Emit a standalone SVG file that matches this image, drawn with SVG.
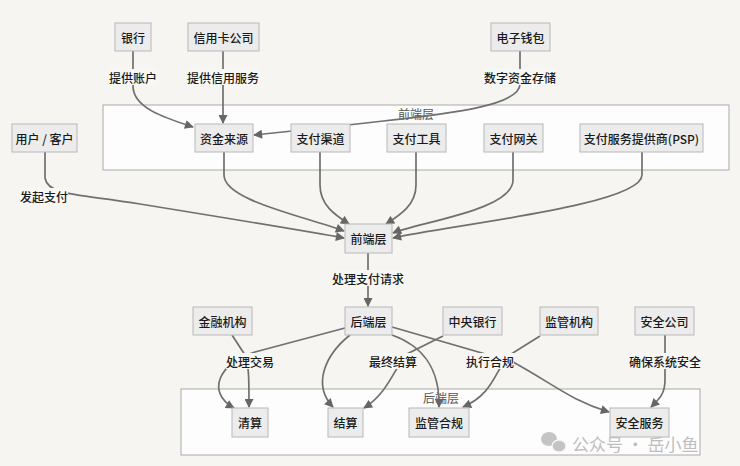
<svg xmlns="http://www.w3.org/2000/svg" width="740" height="466" viewBox="0 0 740 466">
<style>
.node rect{fill:#ececec;stroke:#b8b8b8;stroke-width:1}
.node text,.lbl text{font-family:"Noto Sans CJK SC","Liberation Sans",sans-serif;font-size:12px;font-weight:500;fill:#1a1a1a;text-anchor:middle;dominant-baseline:central}
.cluster{fill:#fdfdfd;stroke:#aaa;stroke-width:1}
.ctitle{font-family:"Noto Sans CJK SC","Liberation Sans",sans-serif;font-size:12px;fill:#555;text-anchor:middle;dominant-baseline:central}
.edges path{fill:none;stroke:#707070;stroke-width:1.7;marker-end:url(#arr)}
.lbl rect{fill:#f7f7f5}
.wm{font-family:"Noto Sans CJK SC","Liberation Sans",sans-serif;font-size:17px;fill:#bdbdbd}
</style>
<defs>
<marker id="arr" viewBox="0 0 10 10" refX="9" refY="5" markerWidth="10" markerHeight="9" orient="auto" markerUnits="userSpaceOnUse">
<path d="M0,0 L10,5 L0,10 z" fill="#666"/>
</marker>
</defs>
<rect width="740" height="466" fill="#f6f5f1"/>
<g id="cluster-front"><rect class="cluster" x="103" y="105" width="626" height="65"/><text class="ctitle" x="416" y="113">前端层</text></g>
<g id="cluster-back"><rect class="cluster" x="181" y="389" width="519" height="66"/><text class="ctitle" x="441" y="397">后端层</text></g>
<g class="edges" id="edges">
<path d="M133,51 L133,86 C133,108 165,118 193,127"/>
<path d="M223,51 L223,123"/>
<path d="M520,51 L520,84 C520,110 420,116 340,126 L254,135"/>
<path d="M45,152 L45,178 C48,196 80,194 140,204 C220,217 300,230 344,238"/>
<path d="M224,152 L224,175 C224,200 300,215 344,231"/>
<path d="M320,152 L320,185 C320,205 335,215 349,224"/>
<path d="M416,152 L416,185 C416,205 400,215 386,224"/>
<path d="M513,152 L513,180 C513,210 420,222 393,233"/>
<path d="M642,152 L642,175 C642,205 450,225 393,238"/>
<path d="M368,253 L368,306"/>
<path d="M345,328 L255,352 C220,362 205,392 234,408"/>
<path d="M232,335 L245,355 C249,365 249,380 249,407"/>
<path d="M350,335 C325,355 312,385 333,407"/>
<path d="M443,336 L405,355 C392,375 385,395 364,408"/>
<path d="M392,335 C420,345 440,365 439,407"/>
<path d="M540,336 L508,356 C495,372 492,395 463,407"/>
<path d="M392,327 L513,362 C555,385 570,400 609,412"/>
<path d="M665,335 L665,380 C665,395 658,400 651,407"/>
</g>
<g class="lbl">
<rect x="109" y="69" width="48" height="16"/><text x="133" y="77">提供账户</text>
<rect x="187" y="69" width="72" height="16"/><text x="223" y="77">提供信用服务</text>
<rect x="484" y="69" width="72" height="16"/><text x="520" y="77">数字资金存储</text>
<rect x="20" y="188" width="48" height="16"/><text x="44" y="196">发起支付</text>
<rect x="332" y="270" width="72" height="16"/><text x="368" y="278">处理支付请求</text>
<rect x="226" y="353" width="48" height="16"/><text x="250" y="361">处理交易</text>
<rect x="369" y="353" width="48" height="16"/><text x="393" y="361">最终结算</text>
<rect x="466" y="353" width="48" height="16"/><text x="490" y="361">执行合规</text>
<rect x="629" y="353" width="72" height="16"/><text x="665" y="361">确保系统安全</text>
</g>
<g class="node" id="n-bank"><rect x="115" y="23" width="36" height="28"/><text x="133" y="37">银行</text></g>
<g class="node" id="n-credit"><rect x="188" y="23" width="71" height="28"/><text x="223.5" y="37">信用卡公司</text></g>
<g class="node" id="n-wallet"><rect x="491" y="23" width="59" height="28"/><text x="520.5" y="37">电子钱包</text></g>
<g class="node" id="n-user"><rect x="12" y="124" width="65" height="28"/><text x="44.5" y="138">用户 / 客户</text></g>
<g class="node" id="n-fund"><rect x="195" y="124" width="58" height="28"/><text x="224" y="138">资金来源</text></g>
<g class="node" id="n-channel"><rect x="291" y="124" width="59" height="28"/><text x="320.5" y="138">支付渠道</text></g>
<g class="node" id="n-tool"><rect x="387" y="124" width="59" height="28"/><text x="416.5" y="138">支付工具</text></g>
<g class="node" id="n-gateway"><rect x="484" y="124" width="59" height="28"/><text x="513.5" y="138">支付网关</text></g>
<g class="node" id="n-psp"><rect x="580" y="124" width="123" height="28"/><text x="641.5" y="138">支付服务提供商(PSP)</text></g>
<g class="node" id="n-front"><rect x="345" y="224" width="47" height="29"/><text x="368.5" y="238.5">前端层</text></g>
<g class="node" id="n-back"><rect x="345" y="307" width="47" height="28"/><text x="368.5" y="321">后端层</text></g>
<g class="node" id="n-fin"><rect x="193" y="307" width="59" height="28"/><text x="222.5" y="321">金融机构</text></g>
<g class="node" id="n-central"><rect x="443" y="307" width="59" height="28"/><text x="472.5" y="321">中央银行</text></g>
<g class="node" id="n-reg"><rect x="540" y="307" width="58" height="28"/><text x="569" y="321">监管机构</text></g>
<g class="node" id="n-secco"><rect x="635" y="307" width="59" height="28"/><text x="664.5" y="321">安全公司</text></g>
<g class="node" id="n-clear"><rect x="232" y="408" width="36" height="29"/><text x="250" y="422.5">清算</text></g>
<g class="node" id="n-settle"><rect x="328" y="408" width="35" height="29"/><text x="345.5" y="422.5">结算</text></g>
<g class="node" id="n-comp"><rect x="409" y="408" width="60" height="29"/><text x="439" y="422.5">监管合规</text></g>
<g class="node" id="n-secsvc"><rect x="610" y="408" width="59" height="29"/><text x="639.5" y="422.5">安全服务</text></g>
<g id="watermark">
<ellipse cx="549" cy="439" rx="8" ry="7" fill="#c4c4c4"/>
<ellipse cx="559" cy="446" rx="7" ry="6" fill="#c4c4c4" stroke="#f6f5f1" stroke-width="1.5"/>
<text class="wm" x="572" y="451">公众号 · 岳小鱼</text>
</g>
</svg>
